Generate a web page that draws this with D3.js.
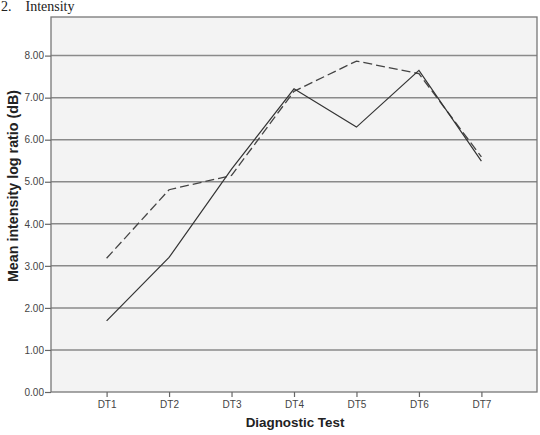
<!DOCTYPE html>
<html>
<head>
<meta charset="utf-8">
<script src="https://cdn.jsdelivr.net/npm/d3@7"></script>
<style>
	body { margin: 0; background: #ffffff; }
	svg { display: block; }
</style>
</head>
<body>
<div id="chart"></div>
<script>
// values
const tests = ['DT1', 'DT2', 'DT3', 'DT4', 'DT5', 'DT6', 'DT7'];
const solidSeries = [1.69, 3.2, 5.3, 7.21, 6.3, 7.65, 5.49];
const dashedSeries = [3.18, 4.81, 5.15, 7.15, 7.87, 7.57, 5.59];
const yTicks = [0, 1, 2, 3, 4, 5, 6, 7, 8];

const width = 540, height = 435;
const frame = { left: 51, right: 537, top: 17, bottom: 392 };

const svg = d3.select('#chart').append('svg')
	.attr('width', width)
	.attr('height', height);

const x = d3.scalePoint().domain(tests).range([frame.left, frame.right]).padding(0.89);
const y = d3.scaleLinear().domain([0, 8]).range([frame.bottom, 55.6]);

// heading at the very top of the page
svg.append('text')
	.attr('x', 1)
	.attr('y', 11)
	.style('font-family', '"Liberation Serif", "Times New Roman", serif')
	.style('font-size', '14px')
	.style('white-space', 'pre')
	.style('fill', '#222')
	.text('2.    Intensity');

// plot background
svg.append('rect')
	.attr('x', frame.left)
	.attr('y', frame.top)
	.attr('width', frame.right - frame.left)
	.attr('height', frame.bottom - frame.top)
	.attr('fill', '#f3f3f3');

// horizontal grid lines
svg.append('g').selectAll('line').data(yTicks.filter(d => d > 0)).join('line')
	.attr('x1', frame.left)
	.attr('x2', frame.right)
	.attr('y1', d => y(d))
	.attr('y2', d => y(d))
	.attr('stroke', '#8a8a8a')
	.attr('stroke-width', 1.5);

// frame
svg.append('rect')
	.attr('x', frame.left)
	.attr('y', frame.top)
	.attr('width', frame.right - frame.left)
	.attr('height', frame.bottom - frame.top)
	.attr('fill', 'none')
	.attr('stroke', '#777')
	.attr('stroke-width', 1.3);

const yAxis = svg.append('g')
	.attr('transform', `translate(${frame.left},0)`)
	.call(d3.axisLeft(y).tickValues(yTicks).tickFormat(d3.format('.2f')).tickSize(6).tickPadding(1));
yAxis.select('.domain').remove();
yAxis.selectAll('line').attr('stroke', '#666').attr('stroke-width', 1.2);
yAxis.selectAll('text')
	.style('font-family', '"Liberation Sans", Arial, sans-serif')
	.style('font-size', '10px')
	.style('fill', '#444');

const xAxis = svg.append('g')
	.attr('transform', `translate(0,${frame.bottom})`)
	.call(d3.axisBottom(x).tickSize(5).tickPadding(4));
xAxis.select('.domain').remove();
xAxis.selectAll('line').attr('stroke', '#666').attr('stroke-width', 1.2);
xAxis.selectAll('text')
	.style('font-family', '"Liberation Sans", Arial, sans-serif')
	.style('font-size', '10px')
	.style('fill', '#444');

// axis titles
svg.append('text')
	.attr('transform', 'translate(18,186) rotate(-90)')
	.attr('text-anchor', 'middle')
	.style('font-family', '"Liberation Sans", Arial, sans-serif')
	.style('font-size', '14.3px')
	.style('font-weight', 'bold')
	.style('fill', '#222')
	.text('Mean intensity log ratio (dB)');

svg.append('text')
	.attr('x', 295)
	.attr('y', 427)
	.attr('text-anchor', 'middle')
	.style('font-family', '"Liberation Sans", Arial, sans-serif')
	.style('font-size', '13.4px')
	.style('font-weight', 'bold')
	.style('fill', '#222')
	.text('Diagnostic Test');

const line = d3.line()
	.x((d, i) => x(tests[i]))
	.y(d => y(d));

svg.append('path')
	.datum(dashedSeries)
	.attr('d', line)
	.attr('fill', 'none')
	.attr('stroke', '#444')
	.attr('stroke-width', 1.3)
	.attr('stroke-dasharray', '9,4');

svg.append('path')
	.datum(solidSeries)
	.attr('d', line)
	.attr('fill', 'none')
	.attr('stroke', '#333')
	.attr('stroke-width', 1.2);
</script>
</body>
</html>
